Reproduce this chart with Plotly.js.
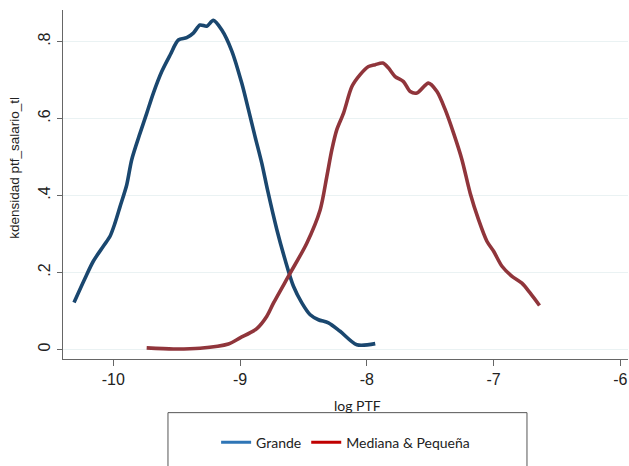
<!DOCTYPE html>
<html>
<head>
<meta charset="utf-8">
<script src="https://cdn.plot.ly/plotly-3.0.1.min.js"></script>
<style>html,body{margin:0;padding:0;background:#fff;}#chart{width:629px;height:466px;}</style>
</head>
<body>
<div id="chart"></div>
<script>
// Grande
var grandeX = [-10.31, -10.223, -10.158, -10.079, -10.026, -9.987, -9.947, -9.894, -9.855, -9.789, -9.736, -9.684, -9.618, -9.552, -9.487, -9.421, -9.369, -9.316, -9.263, -9.211, -9.144, -9.066, -8.987, -8.934, -8.882, -8.829, -8.784, -8.71, -8.645, -8.579, -8.513, -8.447, -8.382, -8.303, -8.211, -8.079, -7.934];
var grandeY = [0.122, 0.185, 0.229, 0.268, 0.294, 0.328, 0.371, 0.428, 0.493, 0.562, 0.614, 0.666, 0.722, 0.765, 0.804, 0.810, 0.822, 0.843, 0.840, 0.855, 0.830, 0.776, 0.692, 0.623, 0.553, 0.484, 0.415, 0.311, 0.233, 0.164, 0.121, 0.090, 0.077, 0.069, 0.047, 0.012, 0.015];
// Mediana & Pequeña
var medX = [-9.737, -9.526, -9.316, -9.092, -9.0, -8.868, -8.789, -8.737, -8.605, -8.474, -8.368, -8.316, -8.276, -8.237, -8.184, -8.118, -8.053, -7.987, -7.934, -7.874, -7.829, -7.777, -7.711, -7.658, -7.605, -7.514, -7.447, -7.382, -7.316, -7.25, -7.185, -7.119, -7.053, -7.0, -6.934, -6.855, -6.777, -6.711, -6.638];
var medY = [0.004, 0.001, 0.003, 0.014, 0.030, 0.054, 0.086, 0.120, 0.198, 0.276, 0.363, 0.449, 0.519, 0.571, 0.614, 0.683, 0.714, 0.735, 0.740, 0.744, 0.731, 0.709, 0.696, 0.670, 0.666, 0.692, 0.670, 0.623, 0.562, 0.493, 0.406, 0.337, 0.281, 0.255, 0.216, 0.190, 0.172, 0.146, 0.114];

var seriesNames = ['Grande', 'Mediana & Pequeña'];
var xTicks = [-10, -9, -8, -7, -6];
var xTickText = ['-10', '-9', '-8', '-7', '-6'];
var yTicks = [0, 0.2, 0.4, 0.6, 0.8];
var yTickText = ['0', '.2', '.4', '.6', '.8'];

var traces = [
  {x: grandeX, y: grandeY, type: 'scatter', mode: 'lines', line: {color: '#1a476f', width: 3.6, shape: 'spline', smoothing: 0.8}, showlegend: false, hoverinfo: 'skip'},
  {x: medX, y: medY, type: 'scatter', mode: 'lines', line: {color: '#90353b', width: 3.6, shape: 'spline', smoothing: 0.8}, showlegend: false, hoverinfo: 'skip'},
  {x: [null], y: [null], type: 'scatter', mode: 'lines', name: seriesNames[0], line: {color: '#2e75b6', width: 3}},
  {x: [null], y: [null], type: 'scatter', mode: 'lines', name: seriesNames[1], line: {color: '#c00000', width: 3}}
];

var layout = {
  width: 629, height: 466,
  margin: {l: 63, r: 1, t: 10, b: 107},
  paper_bgcolor: '#fff', plot_bgcolor: '#fff',
  font: {family: 'Liberation Sans, Arial, sans-serif', color: '#222'},
  xaxis: {
    range: [-10.397, -5.94], tickvals: xTicks, ticktext: xTickText,
    ticks: 'outside', ticklen: 6, tickwidth: 1, tickcolor: '#666',
    showline: true, linecolor: '#666', linewidth: 1.2,
    showgrid: false, zeroline: false,
    tickfont: {size: 16, color: '#222'}
  },
  yaxis: {
    range: [-0.025, 0.882], tickvals: yTicks, ticktext: yTickText,
    ticks: 'outside', ticklen: 5, tickwidth: 1, tickcolor: '#666',
    showline: true, linecolor: '#666', linewidth: 1.2,
    showgrid: true, gridcolor: '#eaf2f3', gridwidth: 1.5, zeroline: false,
    tickangle: -90,
    tickfont: {size: 16, color: '#222'}
  },
  showlegend: true,
  legend: {
    orientation: 'h', x: 0.271, xanchor: 'left', y: -0.2396, yanchor: 'middle',
    bgcolor: 'rgba(0,0,0,0)', borderwidth: 0,
    font: {family: 'Lato, Carlito, sans-serif', size: 14, color: '#222'},
    itemwidth: 30
  },
  shapes: [
    {type: 'rect', xref: 'paper', yref: 'paper', x0: 0.1858, x1: 0.8212, y0: -0.36, y1: -0.1537, line: {color: '#555', width: 1}, fillcolor: 'rgba(0,0,0,0)', layer: 'below'}
  ],
  annotations: [
    {text: 'kdensidad ptf_salario_tl', xref: 'paper', yref: 'paper', x: -0.085, y: 0.548, textangle: -90, showarrow: false, xanchor: 'center', yanchor: 'middle', font: {family: 'Liberation Sans, Arial, sans-serif', size: 13.5, color: '#222'}},
    {text: 'log PTF', xref: 'paper', yref: 'paper', x: 0.522, y: -0.1337, showarrow: false, xanchor: 'center', yanchor: 'middle', font: {family: 'Lato, Carlito, sans-serif', size: 14, color: '#222'}}
  ]
};

Plotly.newPlot('chart', traces, layout, {staticPlot: true, displayModeBar: false});
</script>
</body>
</html>
